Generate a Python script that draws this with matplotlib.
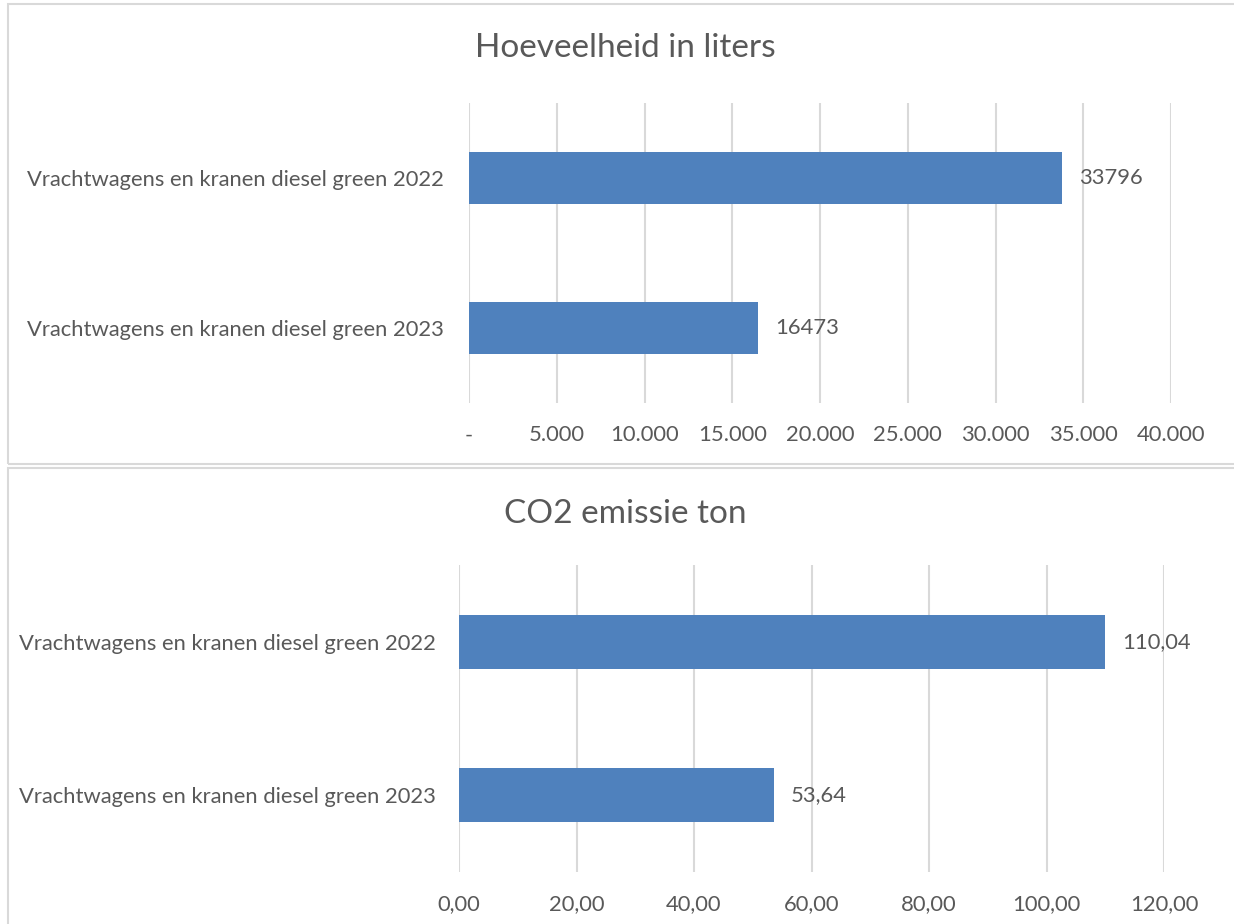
import matplotlib
matplotlib.use('Agg')
import matplotlib.pyplot as plt
from matplotlib.patches import Rectangle

# data
categories = ['Vrachtwagens en kranen diesel green 2022',
              'Vrachtwagens en kranen diesel green 2023']
liters = [33796, 16473]
co2 = [110.04, 53.64]
liters_ticks = [0, 5000, 10000, 15000, 20000, 25000, 30000, 35000, 40000]
co2_ticks = [0, 20, 40, 60, 80, 100, 120]

W, H = 1234, 924
bar_color = '#4F81BD'
text_color = '#595959'
grid_color = '#D9D9D9'
fs = 15.8
plt.rcParams['font.family'] = ['Lato', 'DejaVu Sans']

fig = plt.figure(figsize=(W / 100, H / 100), dpi=100)

# panel borders
for (x0, y0, x1, y1) in [(8, 4, 1240, 464), (8, 468, 1240, 930)]:
    fig.add_artist(Rectangle((x0 / W, 1 - y1 / H), (x1 - x0) / W, (y1 - y0) / H,
                             transform=fig.transFigure, fill=False,
                             edgecolor='#D9D9D9', linewidth=1.5))


def panel(box, values, ticks, xmax, title, title_y, tickfmt, labfmt, ypad):
    left, top, right, bottom = box
    ax = fig.add_axes([left / W, 1 - bottom / H, (right - left) / W, (bottom - top) / H])
    y = list(range(len(values)))
    ax.barh(y, values, height=0.35, color=bar_color, zorder=3)
    ax.set_ylim(len(values) - 0.5, -0.5)
    ax.set_xlim(0, xmax)
    ax.set_yticks(y)
    ax.set_yticklabels(categories)
    ax.set_xticks(ticks)
    ax.set_xticklabels([tickfmt(t) for t in ticks])
    ax.xaxis.grid(True, color=grid_color, linewidth=1.5, zorder=0)
    ax.tick_params(axis='both', length=0, labelsize=fs, labelcolor=text_color)
    ax.tick_params(axis='y', pad=ypad)
    ax.tick_params(axis='x', pad=16)
    for s in ax.spines.values():
        s.set_visible(False)
    for yi, v in zip(y, values):
        ax.annotate(labfmt(v), (v, yi), xytext=(12, 0), textcoords='offset points',
                    va='center', ha='left', fontsize=fs, color=text_color)
    fig.text(625 / W, 1 - title_y / H, title, ha='center', va='center',
             fontsize=24, color=text_color)
    return ax


def fmt_liters(t):
    if t == 0:
        return '-'
    return f'{t:,.0f}'.replace(',', '.')


def fmt_co2(t):
    return f'{t:.2f}'.replace('.', ',')


panel((469, 103, 1171, 403), liters, liters_ticks, 40000,
      'Hoeveelheid in liters', 48, fmt_liters, lambda v: f'{v}', 18)
panel((459, 565, 1164, 872), co2, co2_ticks, 120,
      'CO2 emissie ton', 514, fmt_co2, lambda v: f'{v:.2f}'.replace('.', ','), 16.5)

fig.savefig('out.png', dpi=100)
